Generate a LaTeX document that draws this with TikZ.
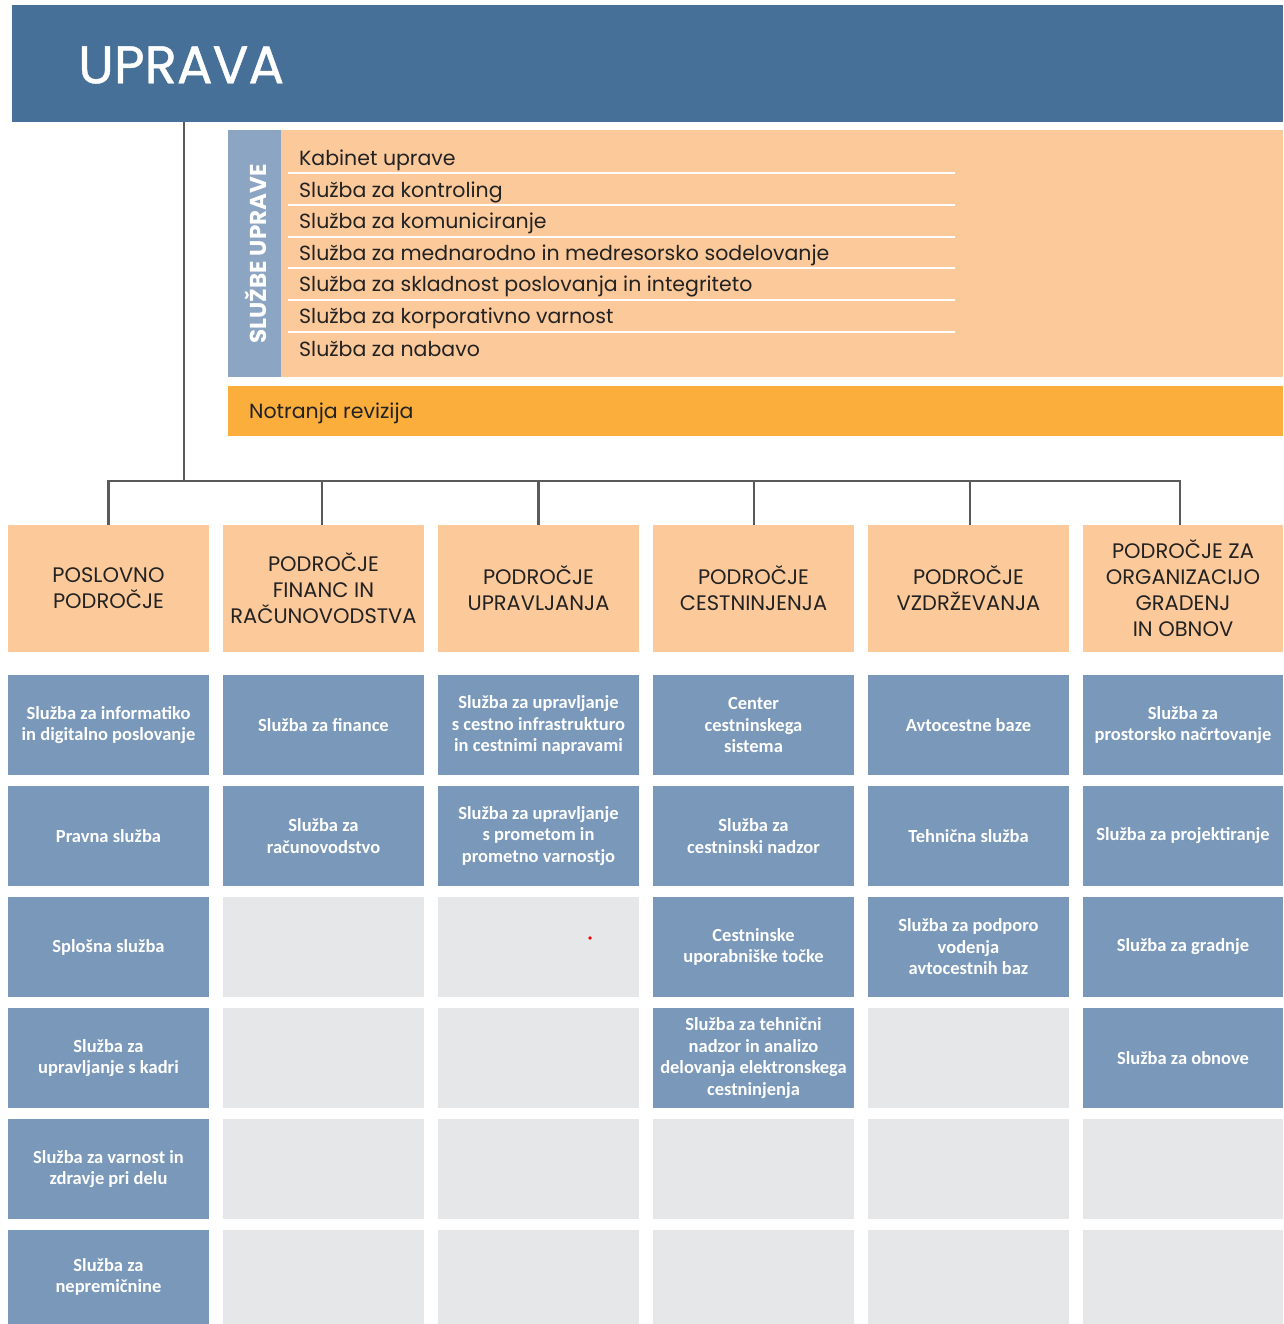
\documentclass[tikz,border=0pt]{standalone}
\usepackage{fontspec}
\setmainfont{Poppins}
\newfontfamily\popf{Poppins}
\newfontfamily\popmed{Poppins}[FakeBold=0.8]
\newfontfamily\carl{Carlito}
\definecolor{banner}{HTML}{467098}
\definecolor{peach}{HTML}{FCC99B}
\definecolor{orng}{HTML}{FBAE3C}
\definecolor{strip}{HTML}{8BA5C3}
\definecolor{blu}{HTML}{7A98B9}
\definecolor{gry}{HTML}{E6E7E8}
\definecolor{conn}{HTML}{5A5A5A}
\definecolor{txt}{HTML}{222222}
\tikzset{
  hdr/.style={fill=peach, minimum width=201, minimum height=127, inner sep=0, font=\popf\fontsize{21}{26}\selectfont, align=center, text=txt},
  unit/.style={fill=blu, minimum width=201, minimum height=100, inner sep=0, font=\carl\bfseries\fontsize{18.5}{21.5}\selectfont, align=center, text=white},
  emptybox/.style={fill=gry, minimum width=201, minimum height=100, inner sep=0},
  item/.style={anchor=west, inner sep=0, font=\popf\fontsize{20.5}{24}\selectfont, text=txt},
  sep/.style={draw=white, line width=1.6},
  connline/.style={draw=conn, line width=2.6},
}
\begin{document}
\begin{tikzpicture}[x=1pt,y=-1pt]
\useasboundingbox (0,0) rectangle (1283,1324);
% banner
\node[fill=banner, minimum width=1271, minimum height=117, inner sep=0, anchor=north west] (upr) at (12,5) {};
\node[anchor=west, inner sep=0, text=white, font=\popmed\fontsize{53}{56}\selectfont] (uprt) at (78,65) {UPRAVA};
% sluzbe uprave
\node[fill=peach, minimum width=1055, minimum height=247, inner sep=0, anchor=north west] (su) at (228,130) {};
\node[fill=strip, minimum width=53, minimum height=247, inner sep=0, anchor=north west] (strip) at (228,130) {};
\node[rotate=90, text=white, inner sep=0, font=\popf\bfseries\fontsize{23}{26}\selectfont] (sut) at (256,254) {SLUŽBE UPRAVE};
\node[item] (i1) at (299,160) {Kabinet uprave};
\node[item] (i2) at (299,192) {Služba za kontroling};
\node[item] (i3) at (299,223) {Služba za komuniciranje};
\node[item] (i4) at (299,255) {Služba za mednarodno in medresorsko sodelovanje};
\node[item] (i5) at (299,286) {Služba za skladnost poslovanja in integriteto};
\node[item] (i6) at (299,318) {Služba za korporativno varnost};
\node[item] (i7) at (299,349) {Služba za nabavo};
\foreach \yy in {173,205,237,268,300,332} {\draw[sep] (288,\yy) -- (955,\yy);}
% notranja revizija
\node[fill=orng, minimum width=1055, minimum height=50, inner sep=0, anchor=north west] (nr) at (228,386) {};
\node[item] (nrt) at (249,413) {Notranja revizija};
% headers
\node[hdr] (h1) at (108.5,588.5) {POSLOVNO\\PODROČJE};
\node[hdr] (h2) at (323.5,588.5) {PODROČJE\\FINANC IN\\RAČUNOVODSTVA};
\node[hdr] (h3) at (538.5,588.5) {PODROČJE\\UPRAVLJANJA};
\node[hdr] (h4) at (753.5,588.5) {PODROČJE\\CESTNINJENJA};
\node[hdr] (h5) at (968.5,588.5) {PODROČJE\\VZDRŽEVANJA};
\node[hdr, minimum width=200] (h6) at (1183,588.5) {PODROČJE ZA\\ORGANIZACIJO\\GRADENJ\\IN OBNOV};
% connectors
\coordinate (bus) at (184,481);
\coordinate (t2) at ([xshift=-1.5]h2.north);
\coordinate (t4) at ([xshift=0.5]h4.north);
\coordinate (t5) at ([xshift=1.5]h5.north);
\coordinate (t6) at ([xshift=-3]h6.north);
\draw[connline] (upr.south -| bus) -- (bus);
\draw[connline] (h1.north) -- (h1.north |- bus) -- (t6 |- bus) -- (t6);
\draw[connline] (t2 |- bus) -- (t2);
\draw[connline] (h3.north |- bus) -- (h3.north);
\draw[connline] (t4 |- bus) -- (t4);
\draw[connline] (t5 |- bus) -- (t5);
% row 1
\node[unit] (a1) at (108.5,725) {Služba za informatiko\\in digitalno poslovanje};
\node[unit] (b1) at (323.5,725) {Služba za finance};
\node[unit] (c1) at (538.5,725) {Služba za upravljanje\\s cestno infrastrukturo\\in cestnimi napravami};
\node[unit] (d1) at (753.5,725) {Center\\cestninskega\\sistema};
\node[unit] (e1) at (968.5,725) {Avtocestne baze};
\node[unit, minimum width=200] (f1) at (1183,725) {Služba za\\prostorsko načrtovanje};
% row 2
\node[unit] (a2) at (108.5,836) {Pravna služba};
\node[unit] (b2) at (323.5,836) {Služba za\\računovodstvo};
\node[unit] (c2) at (538.5,836) {Služba za upravljanje\\s prometom in\\prometno varnostjo};
\node[unit] (d2) at (753.5,836) {Služba za\\cestninski nadzor};
\node[unit] (e2) at (968.5,836) {Tehnična služba};
\node[unit, minimum width=200] (f2) at (1183,836) {Služba za projektiranje};
% row 3
\node[unit] (a3) at (108.5,947) {Splošna služba};
\node[emptybox] (b3) at (323.5,947) {};
\node[emptybox] (c3) at (538.5,947) {};
\node[unit] (d3) at (753.5,947) {Cestninske\\uporabniške točke};
\node[unit] (e3) at (968.5,947) {Služba za podporo\\vodenja\\avtocestnih baz};
\node[unit, minimum width=200] (f3) at (1183,947) {Služba za gradnje};
% row 4
\node[unit] (a4) at (108.5,1058) {Služba za\\upravljanje s kadri};
\node[emptybox] (b4) at (323.5,1058) {};
\node[emptybox] (c4) at (538.5,1058) {};
\node[unit] (d4) at (753.5,1058) {Služba za tehnični\\nadzor in analizo\\delovanja elektronskega\\cestninjenja};
\node[emptybox] (e4) at (968.5,1058) {};
\node[unit, minimum width=200] (f4) at (1183,1058) {Služba za obnove};
% row 5
\node[unit] (a5) at (108.5,1169) {Služba za varnost in\\zdravje pri delu};
\node[emptybox] (b5) at (323.5,1169) {};
\node[emptybox] (c5) at (538.5,1169) {};
\node[emptybox] (d5) at (753.5,1169) {};
\node[emptybox] (e5) at (968.5,1169) {};
\node[emptybox, minimum width=200] (f5) at (1183,1169) {};
% row 6
\node[unit, minimum height=94] (a6) at (108.5,1277) {Služba za\\nepremičnine};
\node[emptybox, minimum height=94] (b6) at (323.5,1277) {};
\node[emptybox, minimum height=94] (c6) at (538.5,1277) {};
\node[emptybox, minimum height=94] (d6) at (753.5,1277) {};
\node[emptybox, minimum height=94] (e6) at (968.5,1277) {};
\node[emptybox, minimum height=94, minimum width=200] (f6) at (1183,1277) {};
% stray dot
\fill[red] (590,938) circle (1.8);
\end{tikzpicture}
\end{document}
